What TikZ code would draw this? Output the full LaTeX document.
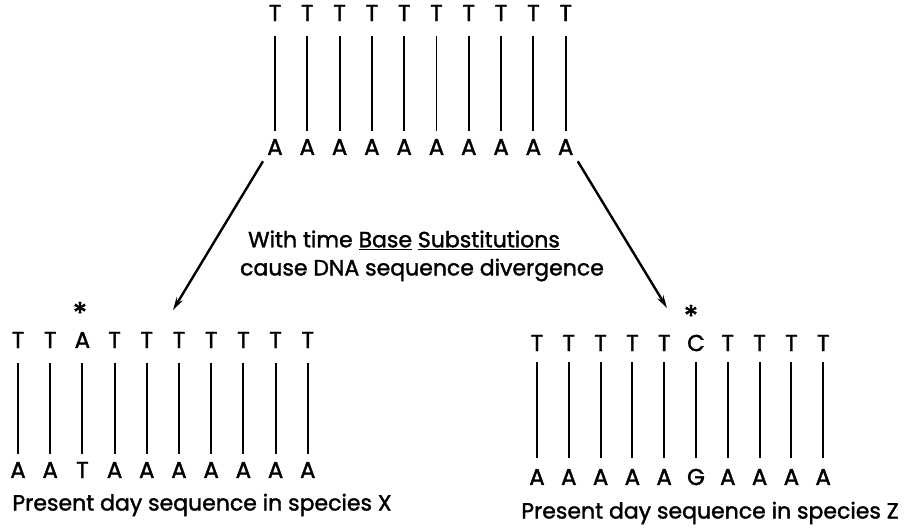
\documentclass[tikz,border=0pt]{standalone}
\usepackage{fontspec}
\setmainfont{Poppins}[BoldFont=Poppins, BoldFeatures={FakeBold=1.6}]
\usetikzlibrary{arrows.meta}
\begin{document}
\begin{tikzpicture}[x=1pt, y=-1pt,
    base/.style={font=\fontsize{23}{26}\selectfont\bfseries, inner sep=1pt},
    pair/.style={line width=1.9pt, shorten <=14pt, shorten >=7pt},
    mark star/.style={font=\fontsize{30}{30}\selectfont\bfseries, inner sep=0pt},
    caption/.style={font=\fontsize{22}{26}\selectfont\bfseries, inner sep=0pt},
    diverge/.style={-{Stealth[length=13pt, width=7pt]}, line width=2.4pt, shorten <=6pt}]
  \useasboundingbox (0,0) rectangle (904,532);
  \foreach \i/\t/\b in {1/T/A, 2/T/A, 3/T/A, 4/T/A, 5/T/A, 6/T/A, 7/T/A, 8/T/A, 9/T/A, 10/T/A} {
    \node(t\i)[base] at ({275+32.3*(\i-1)}, 13) {\t};
    \node(b\i)[base] at ({275+32.3*(\i-1)}, 147) {\b};
    \draw[pair] (t\i) -- (b\i);
  }
  \foreach \i/\t/\b in {1/T/A, 2/T/A, 3/A/T, 4/T/A, 5/T/A, 6/T/A, 7/T/A, 8/T/A, 9/T/A, 10/T/A} {
    \node(xt\i)[base] at ({18+32.2*(\i-1)}, 340) {\t};
    \node(xb\i)[base] at ({18+32.2*(\i-1)}, 470) {\b};
    \draw[pair] (xt\i) -- (xb\i);
  }
  \foreach \i/\t/\b in {1/T/A, 2/T/A, 3/T/A, 4/T/A, 5/T/A, 6/C/G, 7/T/A, 8/T/A, 9/T/A, 10/T/A} {
    \node(zt\i)[base] at ({537+31.8*(\i-1)}, 343) {\t};
    \node(zb\i)[base] at ({537+31.8*(\i-1)}, 477) {\b};
    \draw[pair, shorten <=10pt, shorten >=10pt] (zt\i) -- (zb\i);
  }
  \node(xs)[mark star] at (80, 313) {*};
  \node(zs)[mark star] at (691, 316) {*};
  \node(why)[caption] at (404, 240) {With time \underline{Base} \underline{Substitutions}};
  \node(how)[caption] at (422, 270) {cause DNA sequence divergence};
  \node(xname)[caption] at (202, 505) {Present day sequence in species X};
  \node(zname)[caption] at (710, 513) {Present day sequence in species Z};
  \coordinate(xtip) at (173, 310);
  \coordinate(ztip) at (667, 308);
  \draw[diverge] (b1.south west) -- (xtip);
  \draw[diverge] (b10.south east) -- (ztip);
\end{tikzpicture}
\end{document}
